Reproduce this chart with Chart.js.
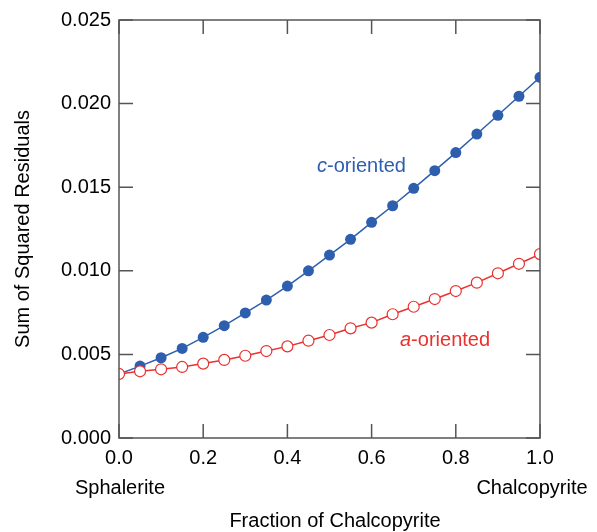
<!DOCTYPE html>
<html>
<head>
<meta charset="utf-8">
<script src="https://cdn.jsdelivr.net/npm/chart.js@4.4.1/dist/chart.umd.min.js"></script>
<style>
html,body{margin:0;padding:0;background:#fff;}
#wrap{width:597px;height:532px;}
</style>
</head>
<body>
<div id="wrap"><canvas id="residChart" width="597" height="532"></canvas></div>
<script>
/* fraction of chalcopyrite, 0 to 1 in steps of 0.05 */
const fractions = [0, 0.05, 0.1, 0.15, 0.2, 0.25, 0.3, 0.35, 0.4, 0.45, 0.5,
  0.55, 0.6, 0.65, 0.7, 0.75, 0.8, 0.85, 0.9, 0.95, 1.0];
const cOriented = [0.00383, 0.0043, 0.0048, 0.00536, 0.00602, 0.00672, 0.00748,
  0.00825, 0.00909, 0.0100, 0.01094, 0.01188, 0.0129, 0.01389, 0.01493,
  0.01599, 0.01707, 0.01818, 0.0193, 0.02044, 0.02157];
const aOriented = [0.00383, 0.00399, 0.00411, 0.00425, 0.00445, 0.00467, 0.00492,
  0.0052, 0.00548, 0.00582, 0.00616, 0.00656, 0.0069, 0.0074, 0.00785,
  0.00831, 0.00879, 0.00929, 0.00985, 0.01042, 0.0110];
const xTicks = [0, 0.2, 0.4, 0.6, 0.8, 1.0];
const yTicks = [0, 0.005, 0.01, 0.015, 0.02, 0.025];

const blue = "#2e5fae";
const red = "#e8322f";
const frameColor = "#555";
const font = "'Liberation Sans', Arial, Helvetica, sans-serif";
const fs = 20;

const toPoints = (ys) => ys.map((y, i) => ({ x: fractions[i], y: y }));

/* box around the plot with inward tick marks, plus the free labels */
const framePlugin = {
  id: "frame",
  afterDatasetsDraw(chart) {
    const { ctx, chartArea: a, scales } = chart;
    ctx.save();
    ctx.strokeStyle = frameColor;
    ctx.lineWidth = 1.5;
    ctx.strokeRect(a.left, a.top, a.right - a.left, a.bottom - a.top);
    const len = 14;
    ctx.beginPath();
    xTicks.forEach((v) => {
      const px = scales.x.getPixelForValue(v);
      ctx.moveTo(px, a.bottom); ctx.lineTo(px, a.bottom - len);
      ctx.moveTo(px, a.top); ctx.lineTo(px, a.top + len);
    });
    yTicks.forEach((v) => {
      const py = scales.y.getPixelForValue(v);
      ctx.moveTo(a.left, py); ctx.lineTo(a.left + len, py);
      ctx.moveTo(a.right, py); ctx.lineTo(a.right - len, py);
    });
    ctx.stroke();

    ctx.textBaseline = "middle";
    ctx.textAlign = "left";
    // series names, with the italic axis letter
    const drawName = (letter, rest, x, y, color) => {
      ctx.fillStyle = color;
      ctx.font = "italic " + fs + "px " + font;
      ctx.fillText(letter, x, y);
      const w = ctx.measureText(letter).width;
      ctx.font = fs + "px " + font;
      ctx.fillText(rest, x + w, y);
    };
    drawName("c", "-oriented", 317, 166, blue);
    drawName("a", "-oriented", 400, 340, red);

    ctx.fillStyle = "#000";
    ctx.textAlign = "center";
    ctx.font = fs + "px " + font;
    ctx.fillText("Sphalerite", 120, 488);
    ctx.fillText("Chalcopyrite", 532, 488);
    ctx.fillText("Fraction of Chalcopyrite", 335, 521);
    ctx.translate(23, 229);
    ctx.rotate(-Math.PI / 2);
    ctx.fillText("Sum of Squared Residuals", 0, 0);
    ctx.restore();
  }
};

new Chart(document.getElementById("residChart"), {
  type: "scatter",
  data: {
    datasets: [
      {
        label: "a-oriented",
        data: toPoints(aOriented),
        showLine: true,
        borderColor: red,
        borderWidth: 1.5,
        pointRadius: 5.5,
        pointBorderWidth: 1.2,
        pointBackgroundColor: "#fff",
        pointBorderColor: red
      },
      {
        label: "c-oriented",
        data: toPoints(cOriented),
        showLine: true,
        borderColor: blue,
        borderWidth: 1.5,
        pointRadius: 5.5,
        pointBorderWidth: 0,
        pointBackgroundColor: blue,
        pointBorderColor: blue
      }
    ]
  },
  options: {
    responsive: false,
    animation: false,
    layout: { padding: { left: 0, top: 20, right: 57, bottom: 0 } },
    plugins: {
      legend: { display: false },
      tooltip: { enabled: false }
    },
    scales: {
      x: {
        type: "linear",
        min: 0,
        max: 1,
        afterBuildTicks: (s) => { s.ticks = xTicks.map((v) => ({ value: v })); },
        afterFit: (s) => { s.height = 94; },
        grid: { display: false, drawTicks: false },
        border: { display: false },
        ticks: {
          color: "#000",
          padding: 8,
          maxRotation: 0,
          font: { family: font, size: fs },
          callback: (v) => v.toFixed(1)
        }
      },
      y: {
        type: "linear",
        min: 0,
        max: 0.025,
        afterBuildTicks: (s) => { s.ticks = yTicks.map((v) => ({ value: v })); },
        afterFit: (s) => { s.width = 119; },
        grid: { display: false, drawTicks: false },
        border: { display: false },
        ticks: {
          color: "#000",
          padding: 8,
          font: { family: font, size: fs },
          callback: (v) => v.toFixed(3)
        }
      }
    }
  },
  plugins: [framePlugin]
});
</script>
</body>
</html>
